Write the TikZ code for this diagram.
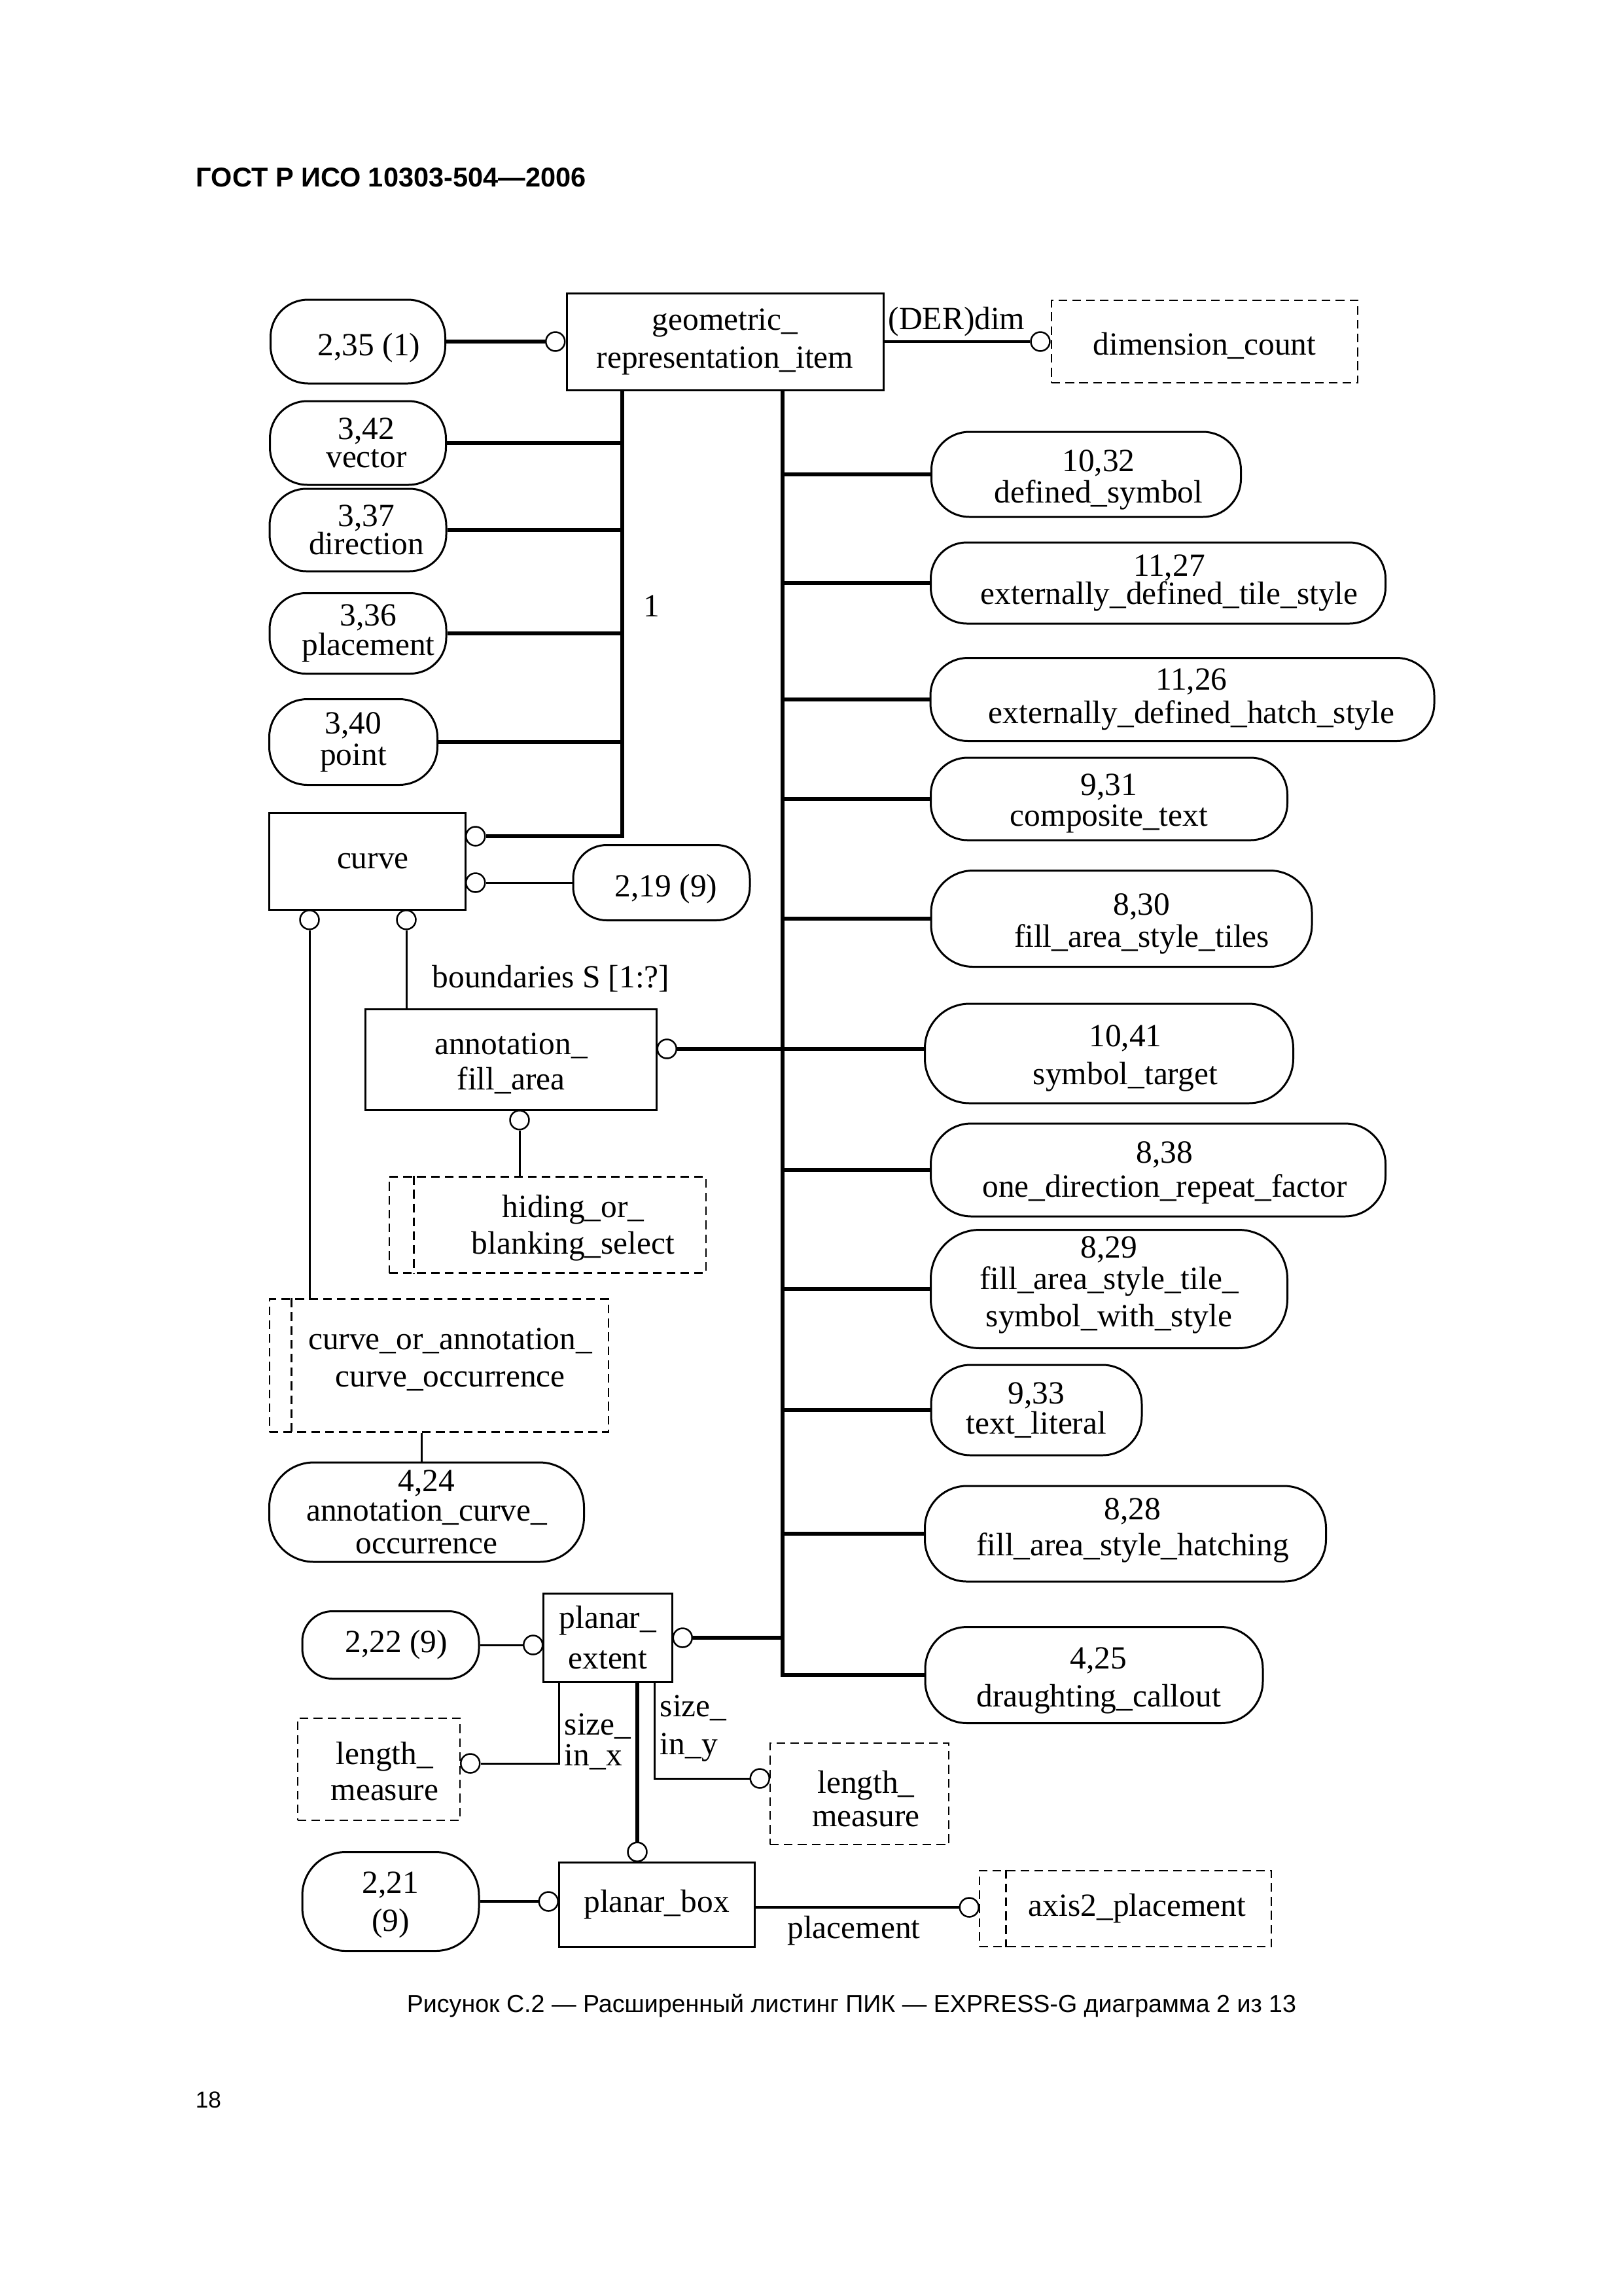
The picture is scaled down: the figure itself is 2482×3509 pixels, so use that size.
\documentclass[tikz,border=0pt]{standalone}
\usepackage{fontspec}
\setmainfont{Liberation Serif}
\newfontfamily\arialfont{Liberation Sans}
\def\PXU{0.24073pt}
\newcommand\txdn[1]{\rule{0pt}{\dimexpr 8pt+#1\relax}}
\newcommand\txup[1]{\rule[-\dimexpr 2.6pt+#1\relax]{0pt}{\dimexpr 2.6pt+#1\relax}}
\tikzset{
  every node/.append style={font=\fontsize{11.9}{14}\selectfont, execute at begin node={\lineskiplimit=-100pt\lineskip=0pt}},
  fs/.style={font=\fontsize{11.9}{#1}\selectfont},
  sz/.style 2 args={minimum width=#1*\PXU, minimum height=#2*\PXU},
  sl/.style={text height=#1*\PXU, text depth=0pt},
  ent/.style={draw, line width=0.72pt, rectangle, inner sep=0pt, align=center},
  pill/.style={draw, line width=0.72pt, rectangle, inner sep=0pt, align=center, rounded corners=#1*\PXU},
  pill/.default=55,
  typ/.style={draw, line width=0.62pt, dash pattern=on 3.2pt off 1.9pt, rectangle, inner sep=0pt, align=center},
  inl/.style={line width=0.62pt, dash pattern=on 3.2pt off 1.9pt},
  circ/.style={draw, circle, line width=0.6pt, fill=white, inner sep=0pt, minimum size=29*\PXU},
  thk/.style={line width=1.44pt},
  med/.style={line width=1.05pt},
  thn/.style={line width=0.72pt},
  lab/.style={inner sep=0pt, anchor=base},
}
\begin{document}
\begin{tikzpicture}[x=0.24073pt, y=-0.24073pt]
\useasboundingbox (0,0) rectangle (2482,3509);

% page header, caption, page number
\node[anchor=base west, inner sep=0pt, font=\arialfont\bfseries\fontsize{10}{12}\selectfont] (hdr) at (299,285) {ГОСТ Р ИСО 10303-504—2006};
\node[anchor=base west, inner sep=0pt, font=\arialfont\fontsize{9.05}{11}\selectfont] (cap) at (621,3075) {Рисунок С.2 — Расширенный листинг ПИК — EXPRESS-G диаграмма 2 из 13};
\node[anchor=base west, inner sep=0pt, font=\arialfont\fontsize{8.5}{10}\selectfont] (pg) at (298,3221) {18};

% trunk x positions
\coordinate (lt) at (951,0);
\coordinate (rt) at (1196,0);

% top
\node[ent, sz={484}{148}, fs=14] (gri) at (1108,522) {geometric\_\\representation\_item};
\node[pill=57, sz={267}{128}, sl=43] (c235) at (547,522) {\hspace*{8.2pt}2,35 (1)};
\node[typ, sz={468}{126}, sl=40] (dimc) at (1841,522) {dimension\_count};
\node[lab] (der) at (1462,503) {(DER)dim};
\node[circ, anchor=east] (o0) at (gri.west) {};
\node[circ, anchor=east] (od) at (dimc.west) {};

% left column
\node[pill=57, sz={269}{128}, fs=10.4] (vec) at (547,677) {\hspace*{6.3pt}3,42\\\hspace*{6.3pt}vector};
\node[pill=56, sz={270}{126}, fs=10.3] (dir) at (547,810) {\hspace*{6.3pt}3,37\\\hspace*{6.3pt}direction};
\node[pill=55, sz={270}{123}, fs=10.8] (plc) at (547,968) {\hspace*{7.7pt}3,36\\\hspace*{7.7pt}placement};
\node[pill=58, sz={257}{131}, fs=11.6] (pnt) at (540,1134) {3,40\\point};
\node[lab] (one) at (996,942) {1};

\node[ent, sz={300}{148}] (crv) at (561,1316) {\hspace*{4.3pt}curve};
\node[circ, anchor=west] (o1) at (711,1278) {};
\node[circ, anchor=west] (o2) at (711,1349) {};
\node[circ, anchor=north] (o3) at (473,1390) {};
\node[circ, anchor=north] (o4) at (621,1390) {};
\node[pill=51, sz={270}{115}, sl=42] (c219) at (1011,1349) {\hspace*{3.4pt}2,19 (9)};

\node[lab] (bnd) at (842,1509) {boundaries S [1:?]};
\node[ent, sz={445}{154}, fs=13] (afa) at (781,1619) {\txdn{2.9pt}annotation\_\\fill\_area};
\node[circ, anchor=west] (o5) at (1003.5,1603) {};
\node[circ, anchor=north] (o6) at (794,1696) {};

\node[typ, sz={484}{147}, fs=13.5] (hid) at (837,1872) {\txdn{2.7pt}\hspace*{18.8pt}hiding\_or\_\\\hspace*{18.8pt}blanking\_select};
\node[typ, sz={518}{203}, fs=13.7] (coc) at (671,2087) {\hspace*{8.2pt}curve\_or\_annotation\_\\\hspace*{8.2pt}curve\_occurrence\txup{3.4pt}};
\coordinate (xcoc) at (644,0);
\node[pill=68, sz={481}{152}, fs=10.8] (c424) at (652,2311) {4,24\\annotation\_curve\_\\[1.2pt]occurrence};

% bottom group
\node[pill=46, sz={270}{103}] (c222) at (597,2514) {\hspace*{4.3pt}2,22 (9)};
\node[ent, sz={197}{135}, fs=14.9] (pe) at (929,2503) {planar\_\\extent};
\node[circ, anchor=east] (o7) at (830.5,2514) {};
\node[circ, anchor=west] (o8) at (1027.5,2503) {};
\coordinate (xsx) at (854,0);
\coordinate (xsy) at (1000,0);
\node[lab, align=left, anchor=base west, fs=11.3] (sx) at (862,2698) {size\_\\in\_x};
\node[lab, align=left, anchor=base west, fs=13.9] (sy) at (1008,2681) {size\_\\in\_y};
\node[typ, sz={248}{156}, fs=13.2] (lml) at (579,2704) {\txdn{1.6pt}\hspace*{4.3pt}length\_\\\hspace*{4.3pt}measure};
\node[circ, anchor=west] (o9) at (703,2695) {};
\node[typ, sz={273}{155}, fs=12.3] (lmr) at (1313.5,2741.5) {\txdn{3.9pt}\hspace*{4.8pt}length\_\\\hspace*{4.8pt}measure};
\node[circ, anchor=east] (o10) at (1177,2718) {};

\node[pill=66, sz={270}{151}, fs=14] (c221) at (597,2906) {\txdn{2.6pt}2,21\\(9)};
\node[ent, sz={299}{129}] (pb) at (1003.5,2910.5) {planar\_box};
\node[circ, anchor=south] (o11) at (974,2846) {};
\node[circ, anchor=east] (o12) at (854,2906) {};
\node[lab] (plab) at (1305,2962) {placement};
\node[typ, sz={446}{116}] (ax) at (1720,2917) {\hspace*{8.7pt}axis2\_placement};
\node[circ, anchor=east] (o13) at (1497,2915) {};

% right column
\node[pill=58, sz={473}{130}, fs=11.6] (ds) at (1660,725) {\txdn{3.9pt}\hspace*{9.1pt}10,32\\\hspace*{9.1pt}defined\_symbol};
\node[pill=55, sz={695}{124}, fs=10.4] (edts) at (1770,891) {\hspace*{8.2pt}11,27\\\hspace*{8.2pt}externally\_defined\_tile\_style};
\node[pill=57, sz={770}{127}, fs=12.3] (edhs) at (1807,1069) {\hspace*{6.7pt}11,26\\\hspace*{6.7pt}externally\_defined\_hatch\_style};
\node[pill=56, sz={545}{126}, fs=11.3] (ct) at (1695,1221) {\txdn{3.4pt}9,31\\composite\_text};
\node[pill=64, sz={582}{147}, fs=11.8] (fast) at (1714,1404) {\txdn{3.9pt}\hspace*{14.9pt}8,30\\\hspace*{14.9pt}fill\_area\_style\_tiles};
\node[pill=68, sz={563}{152}, fs=14] (st) at (1695,1610) {\txdn{3.4pt}\hspace*{12pt}10,41\\\hspace*{12pt}symbol\_target};
\node[pill=62, sz={695}{142}, fs=12.5] (odrf) at (1770,1788) {\txdn{2.2pt}\hspace*{4.8pt}8,38\\\hspace*{4.8pt}one\_direction\_repeat\_factor};
\node[pill=75, sz={545}{181}, fs=11.4] (fsw) at (1695,1970) {8,29\\fill\_area\_style\_tile\_\\[2.4pt]symbol\_with\_style\txup{2.9pt}};
\node[pill=60, sz={322}{138}, fs=11.1] (tl) at (1584,2155) {9,33\\text\_literal};
\node[pill=64, sz={613}{146}, fs=13.3] (fash) at (1720,2344) {\hspace*{5.3pt}8,28\\\hspace*{5.3pt}fill\_area\_style\_hatching\txup{2.4pt}};
\node[pill=64, sz={516}{147}, fs=14] (dc) at (1672,2560) {\txdn{3.9pt}\hspace*{3.4pt}4,25\\\hspace*{3.4pt}draughting\_callout};

% select-type inner lines
\draw[inl] ([xshift=9.4pt]hid.north west) -- ([xshift=9.4pt]hid.south west);
\draw[inl] ([xshift=8.4pt]coc.north west) -- ([xshift=8.4pt]coc.south west);
\draw[inl] ([xshift=10.1pt]ax.north west) -- ([xshift=10.1pt]ax.south west);

% connectors
\draw[thk] (c235.east) -- (o0.west);
\draw[line width=0.84pt] (gri.east) -- (od.west);
\draw[thk] (gri.south -| lt) |- (o1.east);
\draw[thk] (vec.east) -- (vec.east -| lt);
\draw[thk] (dir.east) -- (dir.east -| lt);
\draw[thk] (plc.east) -- (plc.east -| lt);
\draw[thk] (pnt.east) -- (pnt.east -| lt);
\draw[thn] (o2.east) -- (c219.west);
\draw[thn] (o4.south) -- (o4.south |- afa.north);
\draw[thn] (o3.south) -- (o3.south |- coc.north);
\draw[thn] (o6.south) -- (o6.south |- hid.north);
\draw[thn] (coc.south -| xcoc) -- (c424.north -| xcoc);
\draw[thk] (o5.east) -- (o5.east -| st.west);

\draw[thk] (gri.south -| rt) |- (dc.west);
\draw[thk] (rt |- ds.west) -- (ds.west);
\draw[thk] (rt |- edts.west) -- (edts.west);
\draw[thk] (rt |- edhs.west) -- (edhs.west);
\draw[thk] (rt |- ct.west) -- (ct.west);
\draw[thk] (rt |- fast.west) -- (fast.west);
\draw[thk] (rt |- odrf.west) -- (odrf.west);
\draw[thk] (rt |- fsw.west) -- (fsw.west);
\draw[thk] (rt |- tl.west) -- (tl.west);
\draw[thk] (rt |- fash.west) -- (fash.west);
\draw[thk] (o8.east) -- (o8.east -| rt);

\draw[thn] (c222.east) -- (o7.west);
\draw[thn] (pe.south -| xsx) |- (o9.east);
\draw[thk] (pe.south -| o11.north) -- (o11.north);
\draw[thn] (pe.south -| xsy) |- (o10.west);
\draw[med] (c221.east) -- (o12.west);
\draw[med] (pb.east |- o13.west) -- (o13.west);
\end{tikzpicture}
\end{document}
